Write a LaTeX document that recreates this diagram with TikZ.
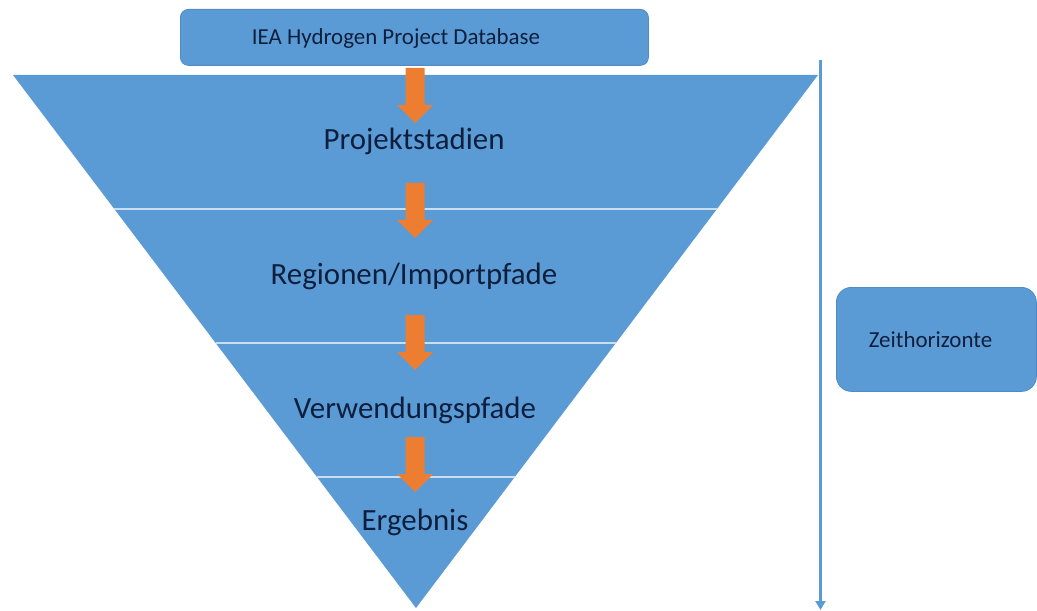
\documentclass[tikz,border=0pt]{standalone}
\usepackage{fontspec}
\setmainfont{Carlito}
\usetikzlibrary{calc,arrows.meta}
\definecolor{funnelblue}{HTML}{5B9BD5}
\definecolor{edgeblue}{HTML}{4F8CC6}
\definecolor{seplight}{HTML}{C9DEF1}
\definecolor{flowor}{HTML}{ED7D31}
\definecolor{inktext}{HTML}{0E1F3D}
\tikzset{
  stagelabel/.style={anchor=base, text=inktext, font=\fontsize{31}{37}\selectfont, inner sep=0pt},
  boxlabel/.style={rounded corners=#1, fill=funnelblue, draw=edgeblue, line width=0.8bp},
  boxtext/.style={text=inktext, font=\fontsize{23}{28}\selectfont, anchor=base, inner sep=0pt},
  separator/.style={draw=seplight, line width=1.6bp},
  timeline/.style={draw=funnelblue, line width=2.8bp, -{Triangle[width=10bp,length=9bp]}},
  flowarrow/.style={fill=flowor},
}
\begin{document}
\begin{tikzpicture}[x=1bp,y=-1bp]
\useasboundingbox (0,0) rectangle (1037,611);

% funnel corners
\coordinate (TL) at (13,75);
\coordinate (TR) at (818,75);
\coordinate (AP) at (416,608);
\fill[funnelblue] (TL) -- (TR) -- (AP) -- cycle;

% separators between the funnel levels
\foreach \f/\n in {0.2514/a,0.5028/b,0.7542/c}{
  \coordinate (L\n) at ($(TL)!\f!(AP)$);
  \coordinate (R\n) at ($(TR)!\f!(AP)$);
  \draw[separator] (L\n) -- (R\n);
}

% source box
\node[boxlabel=8bp, minimum width=468bp, minimum height=56bp, anchor=north west] (db) at (180,9) {};
\node[boxtext] (dbtext) at (396,44.5) {IEA Hydrogen Project Database};

% stage labels
\node[stagelabel] (s1) at (414,150) {Projektstadien};
\node[stagelabel] (s2) at (414,285) {Regionen/Importpfade};
\node[stagelabel] (s3) at (415,418) {Verwendungspfade};
\node[stagelabel] (s4) at (415,530) {Ergebnis};

% orange block arrows between the levels
\foreach \t in {68,183,315,437}{
  \fill[flowarrow] (405.5,\t) -- (424.5,\t) -- (424.5,\t+37) -- (433,\t+37)
     -- (415,\t+55) -- (397,\t+37) -- (405.5,\t+37) -- cycle;
}

% time axis
\coordinate (ttop) at (820.5,60);
\coordinate (tbot) at (820.5,610);
\draw[timeline] (ttop) -- (tbot);

\node[boxlabel=15bp, minimum width=200bp, minimum height=104bp, anchor=north west] (zh) at (836,287) {};
\node[boxtext] (zhtext) at (930.5,347) {Zeithorizonte};
\end{tikzpicture}
\end{document}
